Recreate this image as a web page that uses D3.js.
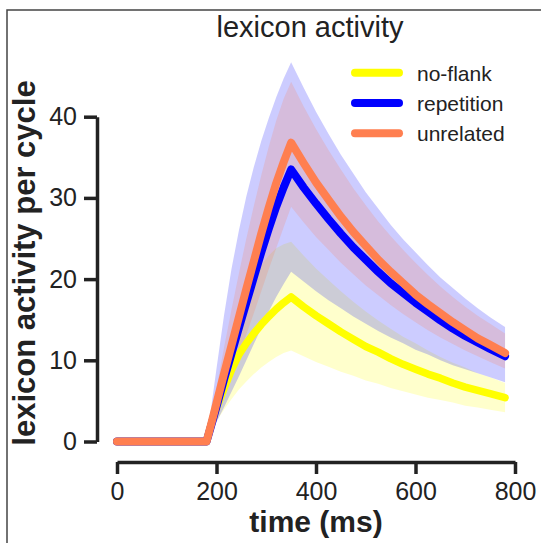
<!DOCTYPE html>
<html>
<head>
<meta charset="utf-8">
<script src="https://cdn.jsdelivr.net/npm/d3@7"></script>
<style>
  body { margin: 0; background: #fff; }
  text { font-family: "Liberation Sans", Arial, sans-serif; fill: #222; }
</style>
</head>
<body>
<div id="chart"></div>
<script>
// time points (ms)
var times = [0, 180, 190, 200, 215, 230, 245, 260, 275, 290, 305, 320, 335, 350,
             375, 400, 425, 450, 475, 500, 525, 550, 575, 600, 625, 650, 675, 700, 725, 750, 780];

// no-flank
var noFlankMean = [0, 0, 2.2, 4.1, 6.5, 8.8, 10.7, 12.1, 13.3, 14.4, 15.4, 16.3, 17.1, 17.8,
                   16.6, 15.5, 14.5, 13.5, 12.6, 11.7, 11.0, 10.2, 9.5, 8.9, 8.3, 7.8, 7.2, 6.7, 6.3, 5.9, 5.4];
var noFlankLow  = [0, 0, 1.3, 2.5, 3.9, 5.2, 6.4, 7.4, 8.3, 9.1, 9.8, 10.4, 10.9, 11.2,
                   10.5, 9.8, 9.2, 8.6, 8.1, 7.5, 7.1, 6.6, 6.2, 5.8, 5.4, 5.1, 4.8, 4.4, 4.2, 3.9, 3.6];
var noFlankHigh = [0, 0, 3.2, 6.2, 10.0, 13.3, 16.0, 18.3, 20.2, 21.7, 22.9, 23.8, 24.3, 24.6,
                   22.9, 21.3, 19.9, 18.5, 17.2, 16.0, 14.9, 13.9, 12.9, 12.1, 11.2, 10.4, 9.7, 9.1, 8.4, 7.9, 7.2];

// repetition
var repetitionMean = [0, 0, 2.1, 4.3, 7.6, 10.8, 14.0, 17.1, 20.2, 23.3, 26.2, 28.9, 31.3, 33.5,
                      31.3, 29.3, 27.4, 25.6, 23.9, 22.4, 20.9, 19.5, 18.3, 17.1, 16.0, 14.9, 13.9, 13.0, 12.2, 11.4, 10.5];
var repetitionLow  = [0, 0, 1.2, 2.4, 4.2, 6.1, 8.0, 10.0, 12.0, 14.0, 16.0, 17.8, 19.4, 20.9,
                      19.7, 18.5, 17.4, 16.4, 15.4, 14.5, 13.6, 12.8, 12.1, 11.3, 10.7, 10.0, 9.4, 8.9, 8.4, 7.9, 7.3];
var repetitionHigh = [0, 0, 4.5, 9.0, 15.5, 21.2, 26.0, 30.2, 33.8, 37.0, 39.8, 42.4, 44.7, 46.7,
                      43.6, 40.6, 37.9, 35.3, 33.0, 30.7, 28.7, 26.7, 24.9, 23.3, 21.7, 20.2, 18.9, 17.6, 16.4, 15.3, 14.1];

// unrelated
var unrelatedMean = [0, 0, 2.3, 4.7, 8.3, 11.8, 15.3, 18.8, 22.2, 25.6, 28.8, 31.8, 34.4, 36.8,
                     34.3, 31.9, 29.8, 27.7, 25.8, 24.1, 22.4, 20.9, 19.5, 18.1, 16.9, 15.8, 14.7, 13.7, 12.7, 11.9, 10.9];
var unrelatedLow  = [0, 0, 1.5, 3.1, 5.5, 8.0, 10.6, 13.2, 15.8, 18.5, 21.2, 23.8, 26.4, 28.9,
                     27.0, 25.2, 23.6, 22.0, 20.6, 19.2, 18.0, 16.8, 15.7, 14.7, 13.7, 12.8, 12.0, 11.2, 10.5, 9.8, 9.0];
var unrelatedHigh = [0, 0, 3.3, 6.6, 11.5, 16.2, 20.7, 25.0, 29.0, 32.8, 36.3, 39.5, 42.2, 44.3,
                     41.3, 38.5, 35.9, 33.5, 31.2, 29.1, 27.1, 25.3, 23.6, 22.0, 20.5, 19.1, 17.8, 16.6, 15.5, 14.5, 13.3];

var seriesNames = ["no-flank", "repetition", "unrelated"];
var seriesColors = ["#ffff00", "#0000ff", "#ff7f50"];
var xTicks = [0, 200, 400, 600, 800];
var yTicks = [0, 10, 20, 30, 40];

var series = [
  { name: seriesNames[0], color: seriesColors[0], mean: noFlankMean, low: noFlankLow, high: noFlankHigh, width: 7.5 },
  { name: seriesNames[1], color: seriesColors[1], mean: repetitionMean, low: repetitionLow, high: repetitionHigh, width: 8 },
  { name: seriesNames[2], color: seriesColors[2], mean: unrelatedMean, low: unrelatedLow, high: unrelatedHigh, width: 8 }
];

var W = 541, H = 543;

var svg = d3.select("#chart").append("svg")
  .attr("width", W)
  .attr("height", H);

// figure frame
svg.append("rect")
  .attr("x", 7).attr("y", 10)
  .attr("width", W + 20).attr("height", H + 20)
  .attr("fill", "none")
  .attr("stroke", "#444")
  .attr("stroke-width", 1.5);

var x = d3.scaleLinear().domain([0, 800]).range([117, 515]);
var y = d3.scaleLinear().domain([0, 40]).range([441.5, 116.7]);

// bands
var area = d3.area()
  .x(function (d) { return x(d.t); })
  .y0(function (d) { return y(d.lo); })
  .y1(function (d) { return y(d.hi); });

series.forEach(function (s) {
  var pts = times.map(function (t, i) { return { t: t, lo: s.low[i], hi: s.high[i] }; });
  svg.append("path")
    .datum(pts)
    .attr("d", area)
    .attr("fill", s.color)
    .attr("fill-opacity", 0.2);
});

// mean lines
var line = d3.line()
  .x(function (d) { return x(d.t); })
  .y(function (d) { return y(d.v); });

series.forEach(function (s) {
  var pts = times.map(function (t, i) { return { t: t, v: s.mean[i] }; });
  svg.append("path")
    .datum(pts)
    .attr("d", line)
    .attr("fill", "none")
    .attr("stroke", s.color)
    .attr("stroke-width", s.width)
    .attr("stroke-linecap", "round")
    .attr("stroke-linejoin", "round");
});

// axes
var yAxis = svg.append("g")
  .attr("transform", "translate(97,0)")
  .call(d3.axisLeft(y).tickValues(yTicks).tickSize(13).tickSizeOuter(0).tickPadding(7));

var xAxis = svg.append("g")
  .attr("transform", "translate(0,462)")
  .call(d3.axisBottom(x).tickValues(xTicks).tickSize(12).tickSizeOuter(0).tickPadding(8));

[yAxis, xAxis].forEach(function (g) {
  g.select(".domain").attr("stroke", "#222").attr("stroke-width", 3.5);
  g.selectAll(".tick line").attr("stroke", "#222").attr("stroke-width", 3.5);
  g.selectAll(".tick text")
    .attr("fill", "#222")
    .style("font-size", "25px")
    .style("font-family", "'Liberation Sans', Arial, sans-serif");
});

// title and labels
svg.append("text")
  .attr("x", 310).attr("y", 37)
  .attr("text-anchor", "middle")
  .style("font-size", "29px")
  .text("lexicon activity");

svg.append("text")
  .attr("x", 316).attr("y", 532)
  .attr("text-anchor", "middle")
  .style("font-size", "30px")
  .style("font-weight", "bold")
  .text("time (ms)");

svg.append("text")
  .attr("transform", "translate(35,263) rotate(-90)")
  .attr("text-anchor", "middle")
  .style("font-size", "31px")
  .style("font-weight", "bold")
  .text("lexicon activity per cycle");

// legend
var legend = svg.append("g");
series.forEach(function (s, i) {
  var ly = 72.7 + i * 30.3;
  legend.append("line")
    .attr("x1", 355).attr("x2", 399)
    .attr("y1", ly).attr("y2", ly)
    .attr("stroke", s.color)
    .attr("stroke-width", 8)
    .attr("stroke-linecap", "round");
  legend.append("text")
    .attr("x", 417).attr("y", ly + 8)
    .style("font-size", "21px")
    .text(s.name);
});
</script>
</body>
</html>
